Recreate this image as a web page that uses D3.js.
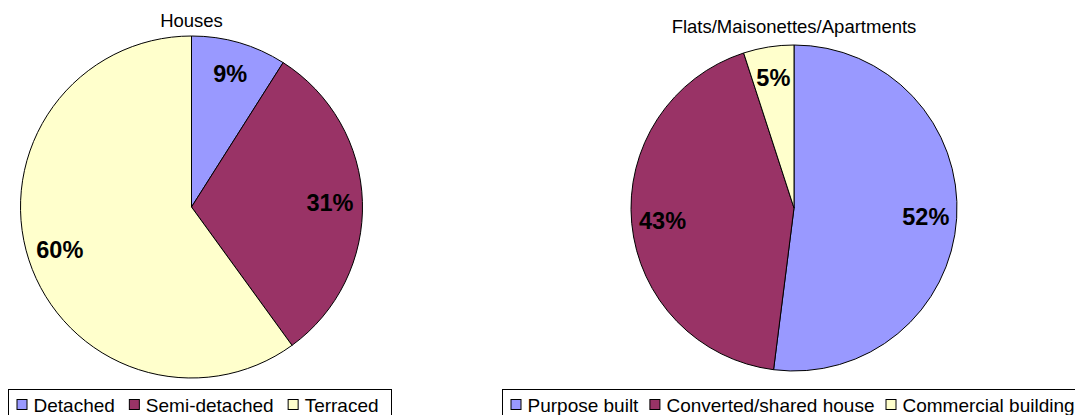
<!DOCTYPE html>
<html>
<head>
<meta charset="utf-8">
<script src="https://cdn.jsdelivr.net/npm/d3@7"></script>
<style>
  html, body { margin: 0; padding: 0; background: #fff; }
  svg { display: block; font-family: "Liberation Sans", Arial, sans-serif; }
</style>
</head>
<body>
<svg id="chart" width="1075" height="415"></svg>
<script>
// Dwelling type shares (%)
const houseCategories = ["Detached", "Semi-detached", "Terraced"];
const houseValues = [9, 31, 60];
const flatCategories = ["Purpose built", "Converted/shared house", "Commercial building"];
const flatValues = [52, 43, 5];
const sliceColors = ["#9999FF", "#993366", "#FFFFCC"];

const svg = d3.select("#chart");

function drawPie(cfg) {
  const g = svg.append("g").attr("transform", `translate(${cfg.cx},${cfg.cy})`);
  const data = cfg.categories.map((c, i) => ({ name: c, value: cfg.values[i] }));
  const pie = d3.pie().value(d => d.value).sort(null);
  const arc = d3.arc().innerRadius(0).outerRadius(cfg.r);
  const labelArc = d3.arc().innerRadius(cfg.r * 0.81).outerRadius(cfg.r * 0.81);
  const color = d3.scaleOrdinal().domain(cfg.categories).range(sliceColors);
  const arcs = pie(data);

  g.selectAll("path").data(arcs).join("path")
    .attr("d", arc)
    .attr("fill", d => color(d.data.name))
    .attr("stroke", "#000")
    .attr("stroke-width", 1);

  g.selectAll("text.lbl").data(arcs).join("text")
    .attr("class", "lbl")
    .attr("transform", d => `translate(${labelArc.centroid(d)})`)
    .attr("text-anchor", "middle")
    .attr("dy", "0.35em")
    .attr("font-size", 23.5)
    .attr("font-weight", "bold")
    .attr("fill", "#000")
    .text(d => d.data.value + "%");

  svg.append("text")
    .attr("x", cfg.cx).attr("y", cfg.titleY)
    .attr("text-anchor", "middle")
    .attr("font-size", 18.5)
    .attr("fill", "#000")
    .text(cfg.title);

  // legend
  const lg = svg.append("g");
  const box = lg.append("rect")
    .attr("x", cfg.legendX).attr("y", 389.5)
    .attr("height", 40)
    .attr("fill", "#fff").attr("stroke", "#000").attr("stroke-width", 1);
  let x = cfg.legendX + 8;
  cfg.categories.forEach(c => {
    lg.append("rect")
      .attr("x", x + 0.5).attr("y", 399.5)
      .attr("width", 10).attr("height", 10)
      .attr("fill", color(c)).attr("stroke", "#000").attr("stroke-width", 1);
    const t = lg.append("text")
      .attr("x", x + 17).attr("y", 412)
      .attr("font-size", 19)
      .attr("fill", "#000")
      .text(c);
    x += 17 + t.node().getComputedTextLength() + cfg.legendGap;
  });
  box.attr("width", cfg.legendW);
}

drawPie({ cx: 191.5, cy: 207, r: 171, title: "Houses", titleY: 27,
          categories: houseCategories, values: houseValues,
          legendX: 8.5, legendW: 383, legendGap: 14 });
drawPie({ cx: 794, cy: 208, r: 163, title: "Flats/Maisonettes/Apartments", titleY: 33,
          categories: flatCategories, values: flatValues,
          legendX: 502.5, legendW: 600, legendGap: 11 });
</script>
</body>
</html>
